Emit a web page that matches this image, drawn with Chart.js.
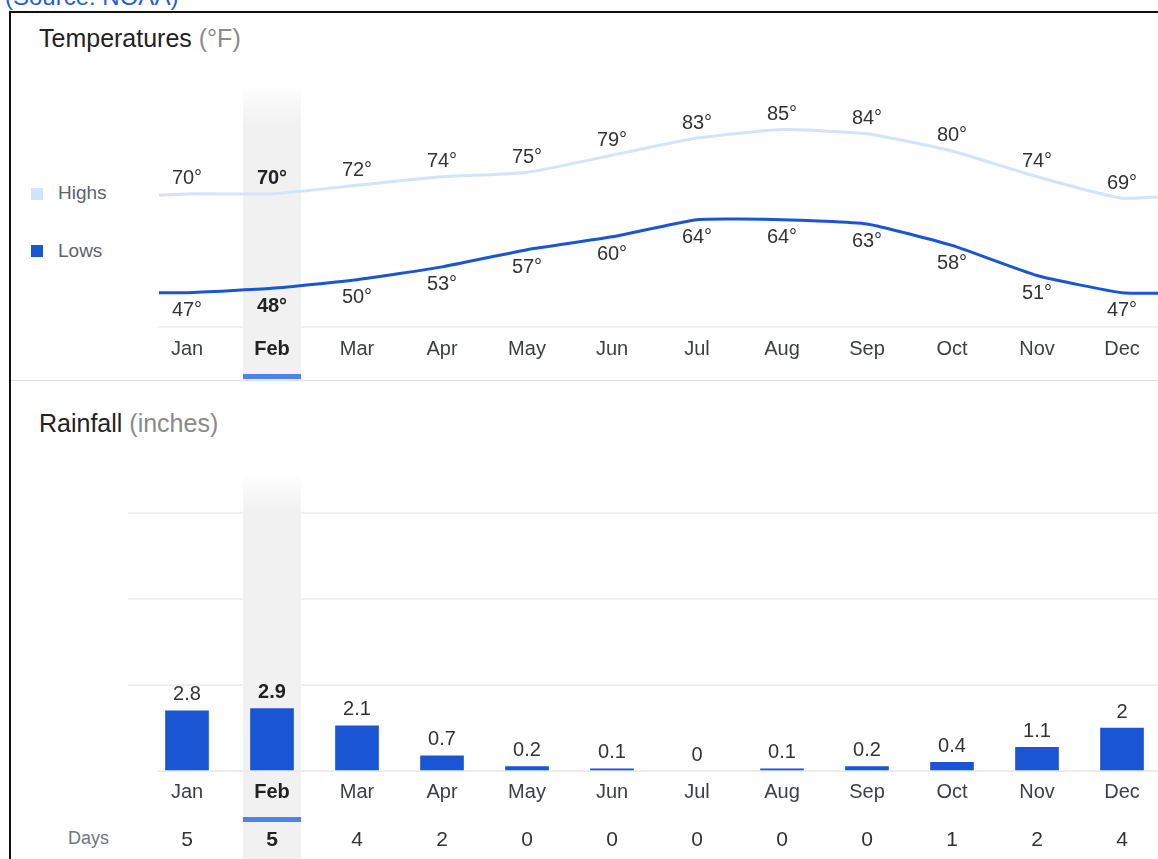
<!DOCTYPE html>
<html>
<head>
<meta charset="utf-8">
<script src="https://cdn.jsdelivr.net/npm/chart.js@4.4.1/dist/chart.umd.min.js"></script>
<style>
  html, body { margin: 0; padding: 0; background: #fff; overflow: hidden; width: 1158px; height: 859px; }
  body { position: relative; font-family: 'Liberation Sans', Arial, sans-serif; }
  .abs { position: absolute; white-space: nowrap; }
  #source { left: 5px; top: -15px; font-size: 24px; line-height: 24px; color: #1f5fd1; }
  #frame { left: 9px; top: 11px; width: 1400px; height: 1000px; border-left: 2px solid #111; border-top: 2px solid #111; }
  .title { left: 39px; font-size: 25px; line-height: 25px; color: #222; }
  .title span { color: #8a8a8a; }
  #tempTitle { top: 26px; }
  #rainTitle { top: 411px; }
  .legend { left: 58px; font-size: 19px; line-height: 19px; color: #5f6368; }
  .swatch { left: 31px; width: 12px; height: 12px; }
  #divider { left: 11px; top: 380px; width: 1200px; height: 1px; background: #dadce0; }
  #daysLabel { left: 68px; top: 829px; font-size: 18px; line-height: 18px; color: #70757a; }
  canvas { position: absolute; left: 0; }
  #tempChart { top: 0; }
  #rainChart { top: 440px; }
</style>
</head>
<body>
<div class="abs" id="source">(Source: NOAA)</div>
<div class="abs" id="frame"></div>

<div class="abs title" id="tempTitle">Temperatures <span>(°F)</span></div>
<div class="abs swatch" id="highSwatch" style="top:188px"></div>
<div class="abs legend" style="top:183px">Highs</div>
<div class="abs swatch" id="lowSwatch" style="top:245px"></div>
<div class="abs legend" style="top:241px">Lows</div>

<div class="abs" id="divider"></div>

<div class="abs title" id="rainTitle">Rainfall <span>(inches)</span></div>
<div class="abs" id="daysLabel">Days</div>

<canvas id="tempChart" width="1158" height="380"></canvas>
<canvas id="rainChart" width="1158" height="419"></canvas>

<script>
// Monthly climate normals
const months = ['Jan', 'Feb', 'Mar', 'Apr', 'May', 'Jun', 'Jul', 'Aug', 'Sep', 'Oct', 'Nov', 'Dec'];
const highs = [70, 70, 72, 74, 75, 79, 83, 85, 84, 80, 74, 69];
const lows = [47, 48, 50, 53, 57, 60, 64, 64, 63, 58, 51, 47];
const rainfall = [2.8, 2.9, 2.1, 0.7, 0.2, 0.1, 0, 0.1, 0.2, 0.4, 1.1, 2];
const rainyDays = [5, 5, 4, 2, 0, 0, 0, 0, 0, 1, 2, 4];
const selectedMonth = 1;

const HIGH_COLOR = '#d2e3fc';
const LOW_COLOR = '#1a56d4';
const ACCENT = '#4a85e8';
const FONT = "'Liberation Sans', Arial, sans-serif";

document.getElementById('highSwatch').style.background = HIGH_COLOR;
document.getElementById('lowSwatch').style.background = LOW_COLOR;

Chart.defaults.font.family = FONT;

// Year wraps around: December precedes January and January follows December
function wrapSeries(values) {
  const n = values.length;
  return [{ x: -1, y: values[n - 1] }]
    .concat(values.map((v, i) => ({ x: i, y: v })))
    .concat([{ x: n, y: values[0] }]);
}

function monthTicks(scale) {
  scale.ticks = months.map((_, i) => ({ value: i }));
}

const monthTickOptions = {
  autoSkip: false,
  maxRotation: 0,
  callback: (v) => months[v],
  font: (c) => ({ family: FONT, size: 20, weight: c.index === selectedMonth ? 'bold' : 'normal' }),
  color: (c) => c.index === selectedMonth ? '#222' : '#3c4043'
};

// Shaded column + underline marking the selected month
function highlightPlugin(bandTop, fadeEnd, underlineY) {
  return {
    id: 'highlight',
    beforeDraw(chart) {
      const ctx = chart.ctx;
      const cx = chart.scales.x.getPixelForValue(selectedMonth);
      const half = 29;
      const grad = ctx.createLinearGradient(0, bandTop, 0, fadeEnd);
      grad.addColorStop(0, 'rgba(241,241,241,0)');
      grad.addColorStop(1, 'rgba(241,241,241,1)');
      ctx.save();
      ctx.fillStyle = grad;
      ctx.fillRect(cx - half, bandTop, half * 2, fadeEnd - bandTop);
      ctx.fillStyle = '#f1f1f1';
      ctx.fillRect(cx - half, fadeEnd, half * 2, chart.height - fadeEnd);
      ctx.fillStyle = ACCENT;
      ctx.fillRect(cx - half, underlineY, half * 2, 5);
      ctx.restore();
    }
  };
}

const tempLabels = {
  id: 'tempLabels',
  afterDatasetsDraw(chart) {
    const ctx = chart.ctx;
    ctx.save();
    ctx.textAlign = 'center';
    ctx.textBaseline = 'middle';
    chart.data.datasets.forEach((ds, di) => {
      const meta = chart.getDatasetMeta(di);
      meta.data.forEach((pt, j) => {
        const raw = ds.data[j];
        if (raw.x < 0 || raw.x >= months.length) return;
        const sel = raw.x === selectedMonth;
        ctx.font = (sel ? 'bold ' : '') + '20px ' + FONT;
        ctx.fillStyle = sel ? '#222' : '#333';
        ctx.fillText(raw.y + '°', pt.x, pt.y + (di === 0 ? -15 : 18));
      });
    });
    ctx.restore();
  }
};

new Chart(document.getElementById('tempChart'), {
  type: 'line',
  data: {
    datasets: [
      { label: 'Highs', data: wrapSeries(highs), borderColor: HIGH_COLOR, borderWidth: 3,
        pointRadius: 0, tension: 0.15, clip: 0 },
      { label: 'Lows', data: wrapSeries(lows), borderColor: LOW_COLOR, borderWidth: 3,
        pointRadius: 0, tension: 0.15, clip: 0 }
    ]
  },
  options: {
    responsive: false,
    animation: false,
    devicePixelRatio: 1,
    events: [],
    layout: { padding: { left: 159, right: 0, top: 108, bottom: 0 } },
    plugins: { legend: { display: false }, tooltip: { enabled: false } },
    scales: {
      x: {
        type: 'linear', bounds: 'data', offset: false,
        min: -28 / 85, max: 971 / 85,
        afterBuildTicks: monthTicks,
        afterFit: (s) => { s.height = 53; },
        grid: { display: false, drawTicks: false },
        border: { display: true, color: '#f0f0f0', width: 2 },
        ticks: Object.assign({ padding: 10 }, monthTickOptions)
      },
      y: { display: false, min: 39, max: 90 }
    }
  },
  plugins: [highlightPlugin(85, 125, 374), tempLabels]
});

const rainLabels = {
  id: 'rainLabels',
  beforeDatasetsDraw(chart) {
    // baseline under the bars
    const ctx = chart.ctx;
    const y0 = chart.scales.y.getPixelForValue(0);
    ctx.save();
    ctx.strokeStyle = '#ececec';
    ctx.lineWidth = 2;
    ctx.beginPath();
    ctx.moveTo(157, y0);
    ctx.lineTo(chart.chartArea.right, y0);
    ctx.stroke();
    ctx.restore();
  },
  afterDatasetsDraw(chart) {
    const ctx = chart.ctx;
    const meta = chart.getDatasetMeta(0);
    ctx.save();
    ctx.textAlign = 'center';
    ctx.textBaseline = 'middle';
    meta.data.forEach((bar, i) => {
      const sel = i === selectedMonth;
      ctx.font = (sel ? 'bold ' : '') + '20px ' + FONT;
      ctx.fillStyle = sel ? '#222' : '#333';
      ctx.fillText(String(rainfall[i]), bar.x, bar.y - 16);
      ctx.font = (sel ? 'bold ' : '') + '21px ' + FONT;
      ctx.fillStyle = sel ? '#222' : '#333';
      ctx.fillText(String(rainyDays[i]), bar.x, 400);
    });
    ctx.restore();
  }
};

new Chart(document.getElementById('rainChart'), {
  type: 'bar',
  data: {
    datasets: [{
      label: 'Rainfall',
      data: rainfall.map((v, i) => ({ x: i, y: v })),
      backgroundColor: (c) => (c.raw && c.raw.y > 0) ? LOW_COLOR : 'rgba(0,0,0,0)',
      borderWidth: 0,
      barThickness: 43
    }]
  },
  options: {
    responsive: false,
    animation: false,
    devicePixelRatio: 1,
    events: [],
    layout: { padding: { left: 128, right: 0, top: 73, bottom: 0 } },
    plugins: { legend: { display: false }, tooltip: { enabled: false } },
    scales: {
      x: {
        type: 'linear', bounds: 'data', offset: false,
        min: -59 / 85, max: 971 / 85,
        afterBuildTicks: monthTicks,
        afterFit: (s) => { s.height = 88; },
        grid: { display: false, drawTicks: false, offset: false },
        border: { display: false },
        ticks: Object.assign({ padding: 9 }, monthTickOptions)
      },
      y: {
        min: 0, max: 12,
        afterBuildTicks: (s) => { s.ticks = [0, 4, 8, 12].map((v) => ({ value: v })); },
        afterFit: (s) => { s.width = 0; },
        ticks: { display: false },
        border: { display: false },
        grid: { drawTicks: false, lineWidth: 2,
          color: (c) => c.tick && c.tick.value === 0 ? 'rgba(0,0,0,0)' : '#f0f0f0' }
      }
    }
  },
  plugins: [highlightPlugin(33, 70, 377), rainLabels]
});
</script>
</body>
</html>
